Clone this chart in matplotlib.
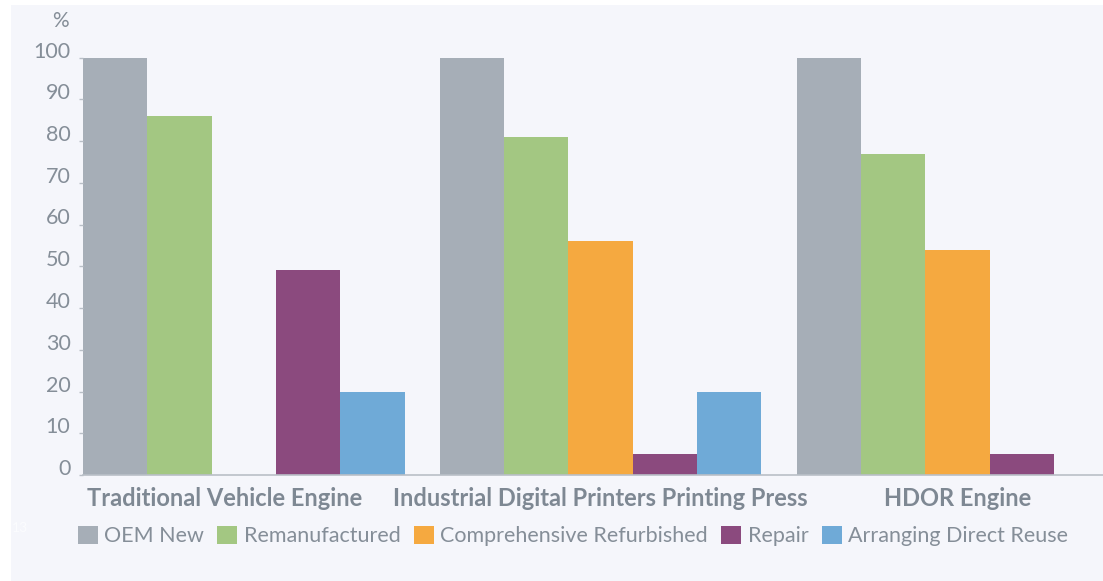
import numpy as np
import matplotlib
matplotlib.use("Agg")
import matplotlib.pyplot as plt
import matplotlib.transforms as mtransforms
from matplotlib.patches import Rectangle, Patch

# ---- data -------------------------------------------------------------
categories = ["Traditional Vehicle Engine",
              "Industrial Digital Printers Printing Press",
              "HDOR Engine"]
series = ["OEM New", "Remanufactured", "Comprehensive Refurbished",
          "Repair", "Arranging Direct Reuse"]
oem_new = [100, 100, 100]
remanufactured = [86, 81, 77]
comprehensive_refurbished = [np.nan, 56, 54]
repair = [49, 5, 5]
direct_reuse = [20, 20, np.nan]
y_ticks = [0, 10, 20, 30, 40, 50, 60, 70, 80, 90, 100]

values = [oem_new, remanufactured, comprehensive_refurbished, repair, direct_reuse]
colors = ["#a6aeb7", "#a3c782", "#f5a940", "#8b4a7e", "#6faad7"]

BG = "#f5f6fb"
TXT = "#7e8893"
TICK_TXT = "#858e98"
SPINE = "#b9bfc7"
FONT = "Lato"

W, H = 1103, 581
fig = plt.figure(figsize=(W / 100, H / 100), dpi=100, facecolor="white")

# light panel behind the chart
fig.patches.append(Rectangle((11 / W, 0), 1 - 11 / W, (H - 5) / H,
                             transform=fig.transFigure, facecolor=BG,
                             edgecolor="none", zorder=-10))

ax_left, ax_right = 83, 1103
ax_base, ax_top = 475, 5
ax = fig.add_axes([ax_left / W, (H - ax_base) / H,
                   (ax_right - ax_left) / W, (ax_base - ax_top) / H])
ax.set_facecolor("none")

slot_px = 64.3
group_gap = 5.55  # in bar widths
n_series = len(series)
group_left = np.arange(len(categories)) * group_gap
for i, (vals, c) in enumerate(zip(values, colors)):
    ax.bar(group_left + i, vals, width=1.0, align="edge", color=c,
           edgecolor="none", linewidth=0, label=series[i])

ax.set_xlim(0, (ax_right - ax_left) / slot_px)
ax.set_ylim(0, (ax_base - ax_top) / ((ax_base - 57.5) / 100))

for s in ["top", "right", "left"]:
    ax.spines[s].set_visible(False)
ax.spines["bottom"].set_color(SPINE)
ax.spines["bottom"].set_linewidth(1.2)

ax.set_yticks(y_ticks)
ax.set_yticklabels([str(t) for t in y_ticks])
ax.tick_params(axis="y", length=3, width=1, color=SPINE, pad=6,
               labelcolor=TICK_TXT, labelsize=15.5)
for lab in ax.get_yticklabels():
    lab.set_fontfamily(FONT)
    lab.set_verticalalignment("baseline")

# category labels under each group
ax.set_xticks([])
centers = group_left + n_series / 2
label_shift = [-0.3, 0.0, 0.0]  # first label sits closer to the axis start
trans = mtransforms.blended_transform_factory(ax.transData, ax.transAxes)
label_y = -(506 - ax_base) / (ax_base - ax_top)
for cx, dx, name in zip(centers, label_shift, categories):
    ax.text(cx + dx, label_y, name, transform=trans, ha="center",
            va="baseline", fontfamily=FONT, fontweight="bold",
            fontsize=17, color=TXT, clip_on=False)

fig.text(60 / W, 1 - 21 / H, "%", ha="center", va="center",
         fontsize=15, color=TICK_TXT, fontfamily=FONT)
fig.text(12 / W, 1 - 528 / H, "13", ha="left", va="center",
         fontsize=10, color="#fbfcfe", fontfamily=FONT)

handles = [Patch(facecolor=c, edgecolor="none") for c in colors]
fig.legend(handles, series, loc="center", ncol=5, frameon=False,
           bbox_to_anchor=(573 / W, 1 - 536 / H),
           prop={"family": FONT, "size": 15.5}, labelcolor=TICK_TXT,
           handlelength=0.93, handleheight=0.93, handletextpad=0.3,
           columnspacing=0.62, borderaxespad=0, borderpad=0)

fig.savefig("out.png", dpi=100, facecolor="white")
